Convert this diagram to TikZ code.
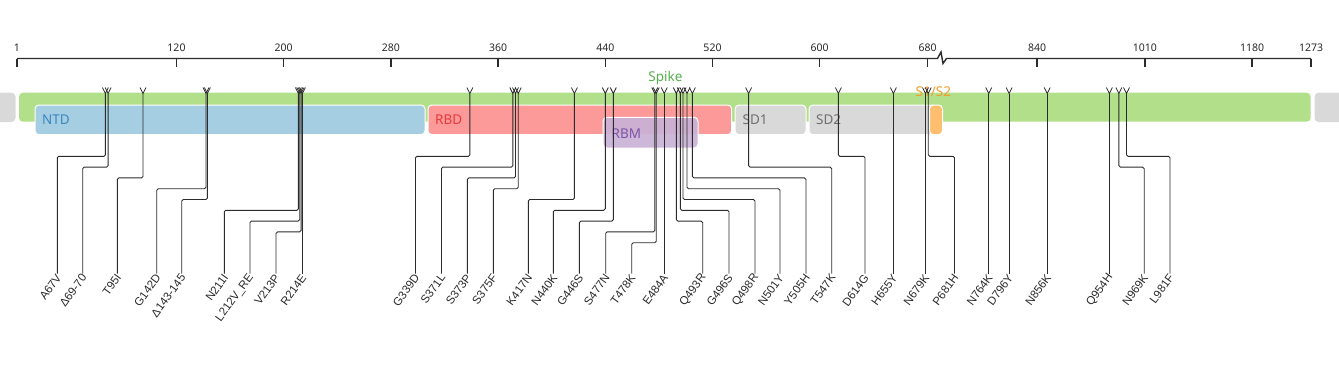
\documentclass[tikz,border=0pt]{standalone}
\usepackage{fontspec}
\setmainfont{Liberation Sans}
\newfontfamily\notof{Noto Sans}
\definecolor{spikefill}{HTML}{B2DF8A}
\definecolor{ntdfill}{HTML}{A6CEE3}
\definecolor{rbdfill}{HTML}{FB9A99}
\definecolor{rbmfill}{HTML}{CAB2D6}
\definecolor{greyfill}{HTML}{D9D9D9}
\definecolor{orgfill}{HTML}{FDBF6F}
\definecolor{spiketxt}{HTML}{56B04C}
\definecolor{ntdtxt}{HTML}{3B86C0}
\definecolor{rbdtxt}{HTML}{E8393C}
\definecolor{rbmtxt}{HTML}{7D55A6}
\definecolor{sdtxt}{HTML}{6F6F6F}
\definecolor{orgtxt}{HTML}{F39C2B}
\definecolor{ink}{HTML}{2B2B2B}
\definecolor{labink}{HTML}{2A2A2A}
\tikzset{
  axisline/.style={draw=ink, line width=1.4pt},
  ticklab/.style={font=\notof\fontsize{10.5}{12}\selectfont, text=labink, inner sep=0pt},
  barbox/.style={rounded corners=4pt},
  dombox/.style={rounded corners=4pt, draw=white, line width=1pt},
  domlab/.style={font=\notof\fontsize{13.5}{16}\selectfont, inner sep=0pt},
  marker/.style={draw=ink, line width=0.8pt},
  conn/.style={draw=ink, line width=0.9pt, rounded corners=1.5pt},
  mutlab/.style={font=\fontsize{11.5}{13}\selectfont, text=labink, inner sep=1pt, anchor=east, rotate=54}
}
\begin{document}
\begin{tikzpicture}[x=1pt,y=-1pt]
\useasboundingbox (0,0) rectangle (1339,372);
% axis
\coordinate (ax0) at (17,58.5);
\coordinate (axb1) at (937.5,58.5);
\coordinate (axb2) at (946.5,58.5);
\coordinate (ax1) at (1311,58.5);
\draw[axisline, line join=miter] (ax0) -- (axb1) -- ++(3.5,-6.5) -- ++(2,11.5) -- (axb2) -- (ax1);
\foreach \x/\t in {17/1,176.5/120,283.7/200,390.9/280,498.1/360,605.3/440,712.5/520,819.7/600,927.5/680,1037/840,1144.8/1010,1252/1180,1311/1273}{
  \draw[axisline] (\x,58.5) -- (\x,67);
  \node[ticklab] (tick\t) at (\x,48) {\t};
}
% bars
\fill[greyfill, barbox] (-6,92.7) rectangle (15.5,122);
\fill[greyfill, barbox] (1314.5,92.7) rectangle (1346,122);
\fill[spikefill, barbox] (19,92.7) rectangle (1310.7,121.7);
\filldraw[dombox, fill=ntdfill] (35,105) rectangle (425,134.7);
\filldraw[dombox, fill=rbdfill] (428,105) rectangle (731.7,134.7);
\filldraw[dombox, fill=greyfill] (735,105) rectangle (806,134.7);
\filldraw[dombox, fill=greyfill] (809,105) rectangle (936,134.7);
\filldraw[dombox, fill=orgfill] (929.5,105) rectangle (942.5,134.7);
\filldraw[dombox, fill=rbmfill, fill opacity=0.92] (603,117.3) rectangle (698,148);
% domain labels
\node[domlab, text=ntdtxt, anchor=west] (tNTD) at (42,120) {NTD};
\node[domlab, text=rbdtxt, anchor=west] (tRBD) at (435,120) {RBD};
\node[domlab, text=rbmtxt, anchor=west] (tRBM) at (611.5,133.3) {RBM};
\node[domlab, text=sdtxt, anchor=west] (tSD1) at (742.5,120) {SD1};
\node[domlab, text=sdtxt, anchor=west] (tSD2) at (816,120) {SD2};
\node[domlab, text=spiketxt] (tSpike) at (665.5,77.5) {Spike};
\node[domlab, text=orgtxt, anchor=west] (tS12) at (915.5,91.5) {S1/S2};
% mutations
\foreach \n/\tx/\bx/\k/\t in {
  a/105.4/57.3/0/A67V, b/108.1/82.7/1/Δ69-70, c/143.0/117.3/2/T95I,
  d/206.0/156.7/3/G142D, e/207.4/181.7/4/Δ143-145, f/298.4/224.3/5/N211I,
  g/299.7/250/6/L212V\_RE, h/301.1/276/7/V213P, i/302.4/302.4/0/R214E,
  j/469.9/415.5/0/G339D, k/512.8/441.5/1/S371L, l/515.5/467.3/2/S373P,
  m/518.2/493.3/3/S375F, n/574.4/528.3/4/K417N, o/605.3/553.3/5/N440K,
  p/613.3/579.3/6/G446S, q/654.8/605.7/7/S477N, r/656.2/631.7/8/T478K,
  s/664.2/664.2/0/E484A, t/676.3/702.7/6/Q493R, u/680.3/729/5/G496S,
  v/683.0/755/4/Q498R, w/687.0/780/3/N501Y, x/692.4/806/2/Y505H,
  y/748.6/831.7/1/T547K, z/838.4/865/0/D614G, aa/893.4/893.4/0/H655Y,
  ab/925.5/925.5/0/N679K, ac/928.2/954.5/0/P681H, ad/988.7/988.7/0/N764K,
  ae/1009.1/1009.1/0/D796Y, af/1047.2/1047.2/0/N856K, ag/1109.4/1109.4/0/Q954H,
  ah/1118.9/1144.2/1/N969K, ai/1126.5/1170/0/L981F}{
  \pgfmathsetmacro\ey{156.3+10.8*\k}
  \coordinate (t\n) at (\tx,93.5);
  \coordinate (b\n) at (\bx,273.5);
  \draw[marker] (\tx-3,87.5) -- (t\n) -- (\tx+3,87.5);
  \draw[conn] (t\n) -- (t\n |- 0,\ey) -- (b\n |- 0,\ey) -- (b\n);
  \node[mutlab] (l\n) at ([xshift=2pt,yshift=-1pt]b\n) {\t};
}
\end{tikzpicture}
\end{document}
